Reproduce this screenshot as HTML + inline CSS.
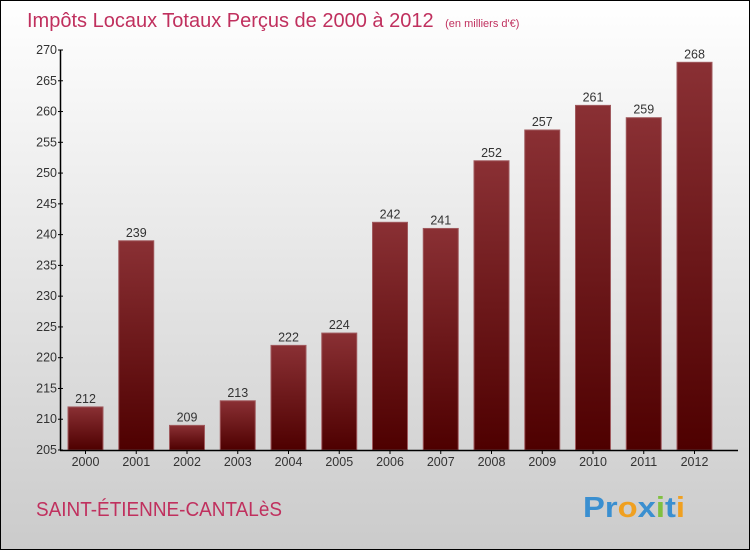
<!DOCTYPE html>
<html><head><meta charset="utf-8"><style>
body{margin:0;width:750px;height:550px;overflow:hidden}
svg{display:block}
text{font-family:"Liberation Sans",sans-serif}
</style></head><body>
<svg id="c" width="750" height="550">
<defs>
<linearGradient id="bg" x1="0" y1="0" x2="0" y2="1"><stop offset="0" stop-color="#ffffff"/><stop offset="1" stop-color="#cbcbcb"/></linearGradient>
<linearGradient id="bar" x1="0" y1="0" x2="0" y2="1"><stop offset="0" stop-color="#8a3034"/><stop offset="1" stop-color="#4e0000"/></linearGradient>
</defs>
<rect x="0.5" y="0.5" width="749" height="549" fill="url(#bg)" stroke="#000"/>
<text x="27" y="27" font-size="20" fill="#c0305e">Impôts Locaux Totaux Perçus de 2000 à 2012 <tspan font-size="11" dx="6">(en milliers d'€)</tspan></text>
<text x="36" y="516" font-size="20" fill="#c0305e" textLength="246" lengthAdjust="spacingAndGlyphs">SAINT-ÉTIENNE-CANTALèS</text>
<text x="583" y="517" font-size="29" font-weight="bold" textLength="102" lengthAdjust="spacingAndGlyphs"><tspan fill="#3a8fd0">Pr</tspan><tspan fill="#f0a020">o</tspan><tspan fill="#3a8fd0">x</tspan><tspan fill="#80c040">i</tspan><tspan fill="#3a8fd0">t</tspan><tspan fill="#f0a020">i</tspan></text>
<g id="g"></g>
</svg>
<script>
const years=["2000","2001","2002","2003","2004","2005","2006","2007","2008","2009","2010","2011","2012"];
const values=[212,239,209,213,222,224,242,241,252,257,261,259,268];
const yTicks=[205,210,215,220,225,230,235,240,245,250,255,260,265,270];
const yMin=205,yMax=270,y0=450,y1=50;
const y=v=>y0-(v-yMin)*(y0-y1)/(yMax-yMin);
const x=i=>85.5+i*50.75;
const g=document.getElementById('g');const NS="http://www.w3.org/2000/svg";
function mk(t,a,txt){const e=document.createElementNS(NS,t);for(const k in a)e.setAttribute(k,a[k]);if(txt!==undefined)e.textContent=txt;g.appendChild(e);return e;}
values.forEach((v,i)=>{
 const r=mk('rect',{x:x(i)-17.5,y:y(v),width:35,height:y0-y(v),fill:'url(#bar)',stroke:'#a05a5e','stroke-width':1});
 
 
 const t=mk('text',{x:x(i),y:y(v)-4,'font-size':12.5,fill:'#333','text-anchor':'middle'},String(v));
 
 
 const xl=mk('text',{x:x(i),y:y0+16,'font-size':12.5,fill:'#333','text-anchor':'middle'},years[i]);
 
 
 const tk=mk('line',{x1:x(i),x2:x(i),y1:y0,y2:y0+4,stroke:'#000'});
 
 
});
yTicks.forEach(v=>{
 const l=mk('line',{x1:58,x2:63,y1:y(v),y2:y(v),stroke:'#000'});
 
 
 const t=mk('text',{x:57,y:y(v)+4,'font-size':12.5,fill:'#333','text-anchor':'end'},String(v));
 
 
});
const ya=mk('line',{x1:60.5,x2:60.5,y1:y1,y2:y0,stroke:'#000','stroke-width':1.5});


const xa=mk('line',{x1:60,x2:738,y1:y0+0.5,y2:y0+0.5,stroke:'#000','stroke-width':1.5});


</script>
</body></html>
